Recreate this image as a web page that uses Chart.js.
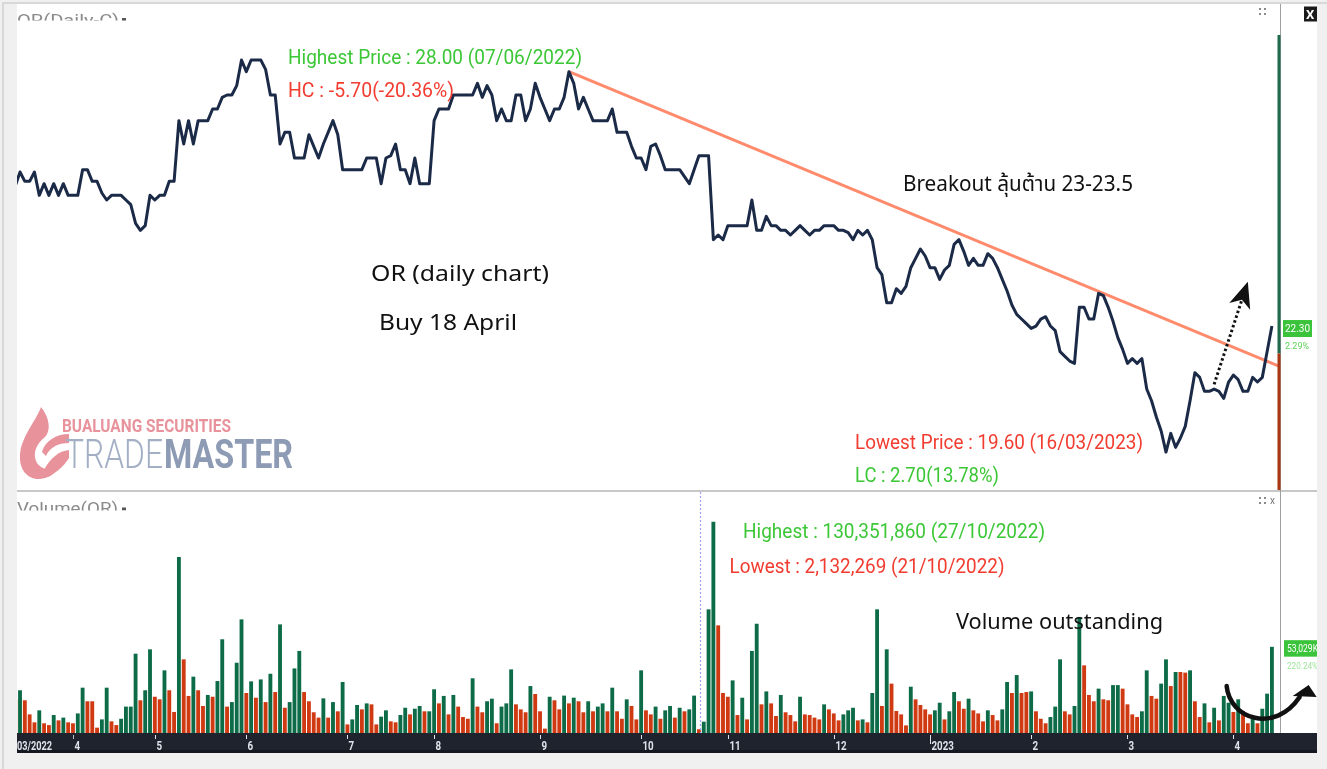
<!DOCTYPE html>
<html>
<head>
<meta charset="utf-8">
<title>OR daily chart</title>
<script src="https://cdn.jsdelivr.net/npm/chart.js@4.4.1/dist/chart.umd.min.js"></script>
<style>
  html, body { margin: 0; padding: 0; background: #f0f0f0; }
  canvas { display: block; }
</style>
</head>
<body>
<canvas id="chart" width="1327" height="769"></canvas>
<script>
// OR daily closes, one value per trading day (mid-March 2022 .. 18 April 2023)
const closePrice = [
  25.30, 25.60, 25.40, 25.40, 25.60, 25.10, 25.35, 25.10, 25.35, 25.10,
  25.35, 25.10, 25.10, 25.10, 25.65, 25.65, 25.40, 25.40, 25.15, 25.00,
  25.10, 25.10, 25.10, 25.00, 24.90, 24.50, 24.35, 24.45, 25.10, 25.00,
  25.10, 25.10, 25.40, 25.40, 26.70, 26.20, 26.70, 26.20, 26.70, 26.70,
  26.70, 26.95, 26.95, 27.20, 27.25, 27.25, 27.45, 28.00, 27.75, 28.00,
  28.00, 28.00, 27.80, 27.25, 27.25, 26.20, 26.45, 26.45, 25.90, 25.90,
  25.90, 26.40, 26.15, 25.90, 26.20, 26.45, 26.70, 26.40, 25.65, 25.65,
  25.65, 25.65, 25.65, 25.90, 25.90, 25.90, 25.35, 25.90, 25.95, 26.20,
  25.65, 25.65, 25.35, 25.90, 25.35, 25.35, 25.35, 26.70, 26.95, 26.95,
  26.95, 27.25, 27.25, 27.25, 27.25, 27.25, 27.50, 27.20, 27.45, 27.25,
  26.70, 26.95, 26.70, 26.70, 27.25, 27.25, 26.70, 26.95, 27.50, 27.20,
  26.95, 26.70, 26.95, 26.95, 27.20, 27.75, 27.50, 26.95, 27.20, 26.95,
  26.70, 26.70, 26.70, 26.70, 26.95, 26.45, 26.45, 26.45, 26.15, 25.90,
  25.90, 25.65, 26.15, 26.20, 25.95, 25.65, 25.65, 25.65, 25.65, 25.50,
  25.35, 25.65, 25.95, 25.95, 25.95, 24.15, 24.25, 24.15, 24.45, 24.45,
  24.45, 24.45, 24.45, 25.00, 24.35, 24.35, 24.65, 24.45, 24.45, 24.35,
  24.35, 24.25, 24.35, 24.45, 24.35, 24.25, 24.35, 24.35, 24.45, 24.45,
  24.45, 24.35, 24.35, 24.30, 24.15, 24.35, 24.25, 24.35, 24.15, 23.55,
  23.40, 22.80, 22.80, 23.10, 23.00, 23.15, 23.55, 23.75, 23.95, 23.80,
  23.55, 23.55, 23.30, 23.50, 23.60, 24.05, 24.15, 23.90, 23.60, 23.75,
  23.60, 23.60, 23.85, 23.75, 23.55, 23.30, 23.05, 22.75, 22.55, 22.45,
  22.35, 22.25, 22.30, 22.45, 22.50, 22.30, 22.20, 21.75, 21.65, 21.55,
  21.50, 22.70, 22.70, 22.45, 22.45, 23.00, 22.95, 22.70, 22.40, 22.05,
  21.80, 21.50, 21.60, 21.50, 21.60, 20.95, 20.70, 20.35, 20.05, 19.60,
  20.00, 19.70, 19.90, 20.15, 20.70, 21.30, 21.20, 20.90, 20.90, 20.95,
  20.90, 20.75, 21.10, 21.25, 21.15, 20.90, 20.90, 21.20, 21.10, 21.20,
  21.75, 22.30
]

// daily volume, millions of shares
const volumeM = [
  20.6, 26.2, 20.0, 11.3, 6.4, 13.8, 5.8, 4.7, 10.9, 7.6,
  9.3, 6.4, 5.8, 11.9, 27.8, 19.4, 19.4, 3.1, 8.2, 27.8,
  7.0, 4.7, 8.6, 16.1, 16.1, 48.8, 20.0, 26.2, 51.5, 22.2,
  20.6, 38.5, 26.2, 12.8, 108.5, 45.3, 22.7, 34.6, 26.2, 16.5,
  23.3, 22.2, 31.9, 57.7, 16.1, 18.9, 43.2, 70.0, 24.5, 31.7,
  21.6, 32.9, 18.9, 36.4, 25.1, 66.9, 15.4, 18.9, 39.7, 50.5,
  25.1, 19.4, 12.6, 9.3, 21.2, 9.3, 18.9, 13.2, 31.3, 5.1,
  8.2, 17.1, 14.4, 18.1, 17.5, 5.1, 9.9, 13.8, 7.0, 6.4,
  10.9, 15.4, 11.3, 14.8, 16.5, 13.2, 13.2, 26.8, 18.1, 22.7,
  11.3, 23.3, 16.1, 9.7, 8.6, 33.6, 16.1, 12.6, 19.4, 21.0,
  5.8, 16.1, 18.1, 39.1, 17.5, 14.4, 12.6, 28.8, 23.9, 13.2,
  2.5, 22.2, 20.0, 14.4, 22.9, 18.1, 21.6, 19.4, 12.6, 19.4,
  13.2, 16.1, 18.1, 13.2, 27.8, 13.2, 8.6, 20.6, 16.5, 8.2,
  38.5, 13.8, 11.3, 16.1, 8.6, 13.8, 16.5, 9.3, 15.4, 13.2,
  14.4, 22.9, 2.13, 6.8, 76.2, 130.35, 66.3, 24.5, 22.2, 32.3,
  10.9, 21.6, 8.2, 50.5, 67.3, 17.5, 25.5, 18.1, 10.3, 23.3,
  12.6, 10.9, 7.0, 22.2, 11.3, 10.9, 9.3, 8.2, 17.5, 14.4,
  11.9, 7.6, 11.3, 13.8, 15.4, 7.6, 8.2, 6.4, 24.5, 76.2,
  16.5, 51.5, 30.3, 13.4, 11.3, 4.5, 28.4, 20.6, 17.1, 14.4,
  11.3, 13.8, 18.5, 8.2, 13.2, 25.1, 19.4, 14.8, 21.0, 13.8,
  11.9, 7.0, 13.8, 10.9, 7.6, 14.4, 31.3, 24.5, 35.6, 24.5,
  25.1, 25.5, 13.2, 8.6, 5.8, 9.7, 16.1, 45.3, 13.2, 11.3,
  16.5, 71.5, 41.6, 23.3, 19.4, 27.2, 20.6, 20.0, 29.4, 29.4,
  27.2, 17.5, 11.3, 9.7, 13.2, 38.5, 22.7, 21.0, 30.3, 45.3,
  28.8, 37.5, 37.5, 37.1, 38.5, 19.4, 9.7, 18.1, 6.4, 15.4,
  7.6, 22.7, 18.5, 12.8, 20.6, 13.2, 5.8, 8.6, 5.8, 14.8,
  24.1, 53.03
]

// 1 = up day (green bar), 0 = down day (red bar)
const volumeUp = [
  0, 1, 0, 0, 0, 1, 0, 0, 1, 0,
  1, 0, 0, 1, 1, 0, 0, 0, 1, 1,
  0, 0, 1, 1, 1, 1, 0, 1, 1, 0,
  0, 1, 0, 0, 1, 0, 0, 1, 0, 0,
  1, 0, 1, 1, 0, 1, 1, 1, 0, 1,
  0, 1, 0, 1, 0, 1, 0, 1, 1, 1,
  0, 0, 0, 0, 1, 0, 1, 0, 1, 0,
  1, 1, 0, 1, 0, 0, 1, 1, 0, 0,
  1, 1, 0, 1, 1, 0, 1, 1, 0, 1,
  0, 1, 0, 0, 0, 1, 0, 0, 1, 1,
  0, 1, 1, 1, 0, 0, 0, 1, 0, 0,
  0, 1, 0, 0, 1, 0, 1, 0, 0, 1,
  0, 1, 1, 0, 1, 0, 0, 1, 0, 0,
  1, 0, 0, 1, 0, 1, 1, 0, 1, 0,
  1, 1, 0, 1, 1, 1, 0, 0, 0, 1,
  0, 1, 0, 1, 1, 0, 1, 0, 0, 1,
  0, 0, 0, 1, 0, 0, 0, 0, 1, 0,
  0, 0, 1, 1, 1, 0, 1, 0, 1, 1,
  0, 1, 0, 0, 0, 0, 1, 0, 0, 0,
  0, 1, 1, 0, 1, 1, 0, 0, 1, 0,
  0, 0, 1, 0, 0, 1, 1, 0, 1, 0,
  0, 1, 0, 0, 0, 1, 1, 1, 0, 0,
  1, 1, 0, 0, 0, 1, 0, 0, 1, 1,
  0, 0, 0, 0, 1, 1, 0, 0, 1, 1,
  0, 1, 0, 0, 1, 0, 0, 1, 0, 1,
  0, 1, 1, 0, 1, 0, 0, 1, 0, 1,
  1, 1
]

// month ticks on the time axis (index of first trading day of the month)
const monthTickIdx = [12, 29, 48, 69, 87, 109, 130, 148, 170, 190, 211, 231, 253]
const monthTickLabels = ['4', '5', '6', '7', '8', '9', '10', '11', '12', '2023', '2', '3', '4']
const firstDateLabel = '03/2022'

// resistance line drawn by hand on the chart
const trendIdx = [115, 262.7]
const trendPrice = [27.75, 21.43]

const crosshairIdx = 142
const lastPriceLabel = '22.30'
const lastChangeLabel = '2.29%'
const lastVolumeLabel = '53,029K'
const volumeChangeLabel = '220.24%'

const GREEN_TXT = '#3cc737'
const RED_TXT = '#f23c30'
const NARROW = '"Liberation Sans Narrow", Roboto, sans-serif'
const THAI = '"Noto Sans Thai", "Noto Sans", Tahoma, sans-serif'
const SEP_Y = 491

function drawText(ctx, text, x, y, font, color, width) {
  ctx.font = font
  ctx.fillStyle = color
  ctx.textAlign = 'left'
  ctx.textBaseline = 'alphabetic'
  const w = ctx.measureText(text).width
  const sx = width ? width / w : 1
  ctx.save()
  ctx.translate(x, y)
  ctx.scale(sx, 1)
  ctx.fillText(text, 0, 0)
  ctx.restore()
}

function panelIcons(ctx, y, withX) {
  ctx.fillStyle = '#8a8a8a'
  ;[[1259, y], [1264, y], [1259, y + 5], [1264, y + 5]].forEach(([x, yy]) => ctx.fillRect(x, yy, 2, 2))
  if (withX) drawText(ctx, 'x', 1270, y + 7, '10px Roboto', '#777')
}

function drawLogo(ctx) {
  ctx.save()
  ctx.fillStyle = '#e8939b'
  // flame body
  ctx.beginPath()
  ctx.moveTo(41, 407)
  ctx.bezierCurveTo(36, 421, 21, 437, 20, 455)
  ctx.bezierCurveTo(19, 470, 28, 479, 38, 479)
  ctx.bezierCurveTo(48, 479, 55, 474, 59, 467)
  ctx.bezierCurveTo(51, 471, 42, 470, 37, 463)
  ctx.bezierCurveTo(32, 454, 36, 444, 45, 437)
  ctx.bezierCurveTo(51, 431, 50, 418, 41, 407)
  ctx.fill()
  // upper bar of the "G"
  ctx.beginPath()
  ctx.moveTo(42, 452)
  ctx.bezierCurveTo(45, 441, 56, 434, 69, 434)
  ctx.lineTo(69, 443)
  ctx.bezierCurveTo(58, 443, 50, 447, 46, 456)
  ctx.closePath()
  ctx.fill()
  // lower swirl
  ctx.beginPath()
  ctx.moveTo(44, 470)
  ctx.bezierCurveTo(50, 458, 59, 451, 69, 450)
  ctx.lineTo(69, 458)
  ctx.bezierCurveTo(64, 466, 56, 474, 44, 478)
  ctx.closePath()
  ctx.fill()
  ctx.restore()

  drawText(ctx, 'BUALUANG SECURITIES', 62, 431.5, 'bold 19px Roboto', '#e8939b', 169)
  drawText(ctx, 'TRADE', 65, 468, '300 40px Roboto', '#a3afc5', 98)
  drawText(ctx, 'MASTER', 164, 468, 'bold 40px Roboto', '#8e9bb5', 129)
}

const decorPlugin = {
  id: 'decor',
  beforeDraw(chart) {
    const { ctx, chartArea: a } = chart
    ctx.save()
    ctx.fillStyle = '#f0f0f0'
    ctx.fillRect(0, 0, chart.width, chart.height)
    ctx.strokeStyle = '#d0d0d0'
    ctx.lineWidth = 1.5
    ctx.beginPath()
    ctx.moveTo(3, chart.height)
    ctx.lineTo(3, 3)
    ctx.lineTo(chart.width, 3)
    ctx.stroke()

    ctx.fillStyle = '#ffffff'
    ctx.fillRect(a.left, a.top, 1317 - a.left, a.bottom - a.top)

    // panel separator
    ctx.fillStyle = '#c8c8c8'
    ctx.fillRect(a.left, SEP_Y - 1, 1317 - a.left, 2)

    // right price axis border
    ctx.fillStyle = '#a0a0a0'
    ctx.fillRect(a.right, a.top, 1, a.bottom - a.top)

    drawLogo(ctx)

    // clipped panel titles
    ctx.save()
    ctx.beginPath()
    ctx.rect(a.left, a.top, 200, 16.5)
    ctx.clip()
    drawText(ctx, 'OR(Daily-C)', 17, 25.5, '17px Roboto', '#8a8a8a', 102)
    ctx.fillStyle = '#555'
    ctx.fillRect(122, 18, 4, 3)
    ctx.restore()

    ctx.save()
    ctx.beginPath()
    ctx.rect(a.left, SEP_Y + 1, 200, 18.5)
    ctx.clip()
    drawText(ctx, 'Volume(OR)', 17, 513.5, '17px Roboto', '#8a8a8a', 101)
    ctx.fillStyle = '#555'
    ctx.fillRect(122, 507.5, 4, 3)
    ctx.restore()

    panelIcons(ctx, 8, false)
    panelIcons(ctx, 497, true)

    // close box
    ctx.fillStyle = '#1a1a1a'
    ctx.fillRect(1304, 6.5, 13, 15)
    drawText(ctx, 'X', 1306, 19, 'bold 13px Roboto', '#ffffff')
    ctx.restore()
  },
  afterDatasetsDraw(chart) {
    const { ctx, chartArea: a, scales } = chart
    const x = scales.x, yp = scales.yPrice, yv = scales.yVol
    ctx.save()

    // crosshair in the volume panel
    const cx = Math.round(x.getPixelForValue(crosshairIdx)) + 1.5
    ctx.strokeStyle = '#a3a3ff'
    ctx.lineWidth = 1.2
    ctx.setLineDash([2, 2])
    ctx.beginPath()
    ctx.moveTo(cx, SEP_Y + 1)
    ctx.lineTo(cx, a.bottom)
    ctx.stroke()
    ctx.setLineDash([])

    // buy/sell pressure strip on the axis
    ctx.fillStyle = '#1d6b4a'
    ctx.fillRect(a.right - 2.5, 35, 3, 318.5)
    ctx.fillStyle = '#a83612'
    ctx.fillRect(a.right - 2.5, 353.5, 3, 136.5)

    // dotted breakout arrow
    const sx = x.getPixelForValue(249), sy = yp.getPixelForValue(21.05)
    const tx = x.getPixelForValue(256), ty = yp.getPixelForValue(23.25)
    const ang = Math.atan2(ty - sy, tx - sx)
    const ex = tx - Math.cos(ang) * 16, ey = ty - Math.sin(ang) * 16
    ctx.strokeStyle = '#111'
    ctx.lineWidth = 3
    ctx.setLineDash([2.5, 2.5])
    ctx.beginPath()
    ctx.moveTo(sx, sy)
    ctx.lineTo(ex, ey)
    ctx.stroke()
    ctx.setLineDash([])
    ctx.fillStyle = '#111'
    ctx.save()
    ctx.translate(tx, ty)
    ctx.rotate(ang)
    ctx.beginPath()
    ctx.moveTo(0, 0)
    ctx.lineTo(-26, -11)
    ctx.lineTo(-19, 0)
    ctx.lineTo(-26, 11)
    ctx.closePath()
    ctx.fill()
    ctx.restore()

    // curved "volume turning up" arrow
    const bx = x.getPixelForValue(251.6), by = yv.getPixelForValue(29)
    ctx.strokeStyle = '#111'
    ctx.lineWidth = 4.5
    ctx.lineCap = 'round'
    ctx.beginPath()
    ctx.moveTo(bx, by)
    ctx.bezierCurveTo(bx + 3, by + 33, bx + 48, by + 48, bx + 73, by + 11)
    ctx.stroke()
    ctx.beginPath()
    ctx.moveTo(bx + 82, by - 1)
    ctx.lineTo(bx + 66, by + 10)
    ctx.lineTo(bx + 90, by + 11)
    ctx.closePath()
    ctx.fill()

    // annotations
    drawText(ctx, 'Highest Price : 28.00 (07/06/2022)', 288, 63.5, '21px ' + NARROW, GREEN_TXT, 294)
    drawText(ctx, 'HC : -5.70(-20.36%)', 288, 96.7, '21px ' + NARROW, RED_TXT, 166)
    drawText(ctx, 'Breakout ลุ้นต้าน 23-23.5', 903, 190.7, '22px ' + THAI, '#111', 230)
    drawText(ctx, 'OR (daily chart)', 371, 281, '22px ' + THAI, '#111', 178)
    drawText(ctx, 'Buy 18 April', 379, 330, '22px ' + THAI, '#111', 138)
    drawText(ctx, 'Lowest Price : 19.60 (16/03/2023)', 855, 449, '21px ' + NARROW, RED_TXT, 288)
    drawText(ctx, 'LC : 2.70(13.78%)', 855, 481.7, '21px ' + NARROW, GREEN_TXT, 144)
    drawText(ctx, 'Highest : 130,351,860 (27/10/2022)', 743, 538.3, '21px ' + NARROW, GREEN_TXT, 302)
    drawText(ctx, 'Lowest : 2,132,269 (21/10/2022)', 729.5, 573.3, '21px ' + NARROW, RED_TXT, 275)
    drawText(ctx, 'Volume outstanding', 956, 629.3, '22px ' + THAI, '#111', 207)
    ctx.restore()
  },
  afterDraw(chart) {
    const { ctx, chartArea: a, scales } = chart
    ctx.save()
    // last price / last volume tags
    const py = scales.yPrice.getPixelForValue(closePrice[closePrice.length - 1])
    ctx.fillStyle = '#3bc43b'
    ctx.fillRect(1283, py - 6, 29, 17)
    ctx.font = '10px Roboto'
    ctx.fillStyle = '#ffffff'
    ctx.textAlign = 'center'
    ctx.fillText(lastPriceLabel, 1297.5, py + 6)
    ctx.fillStyle = '#5fd35a'
    ctx.font = '9px Roboto'
    ctx.fillText(lastChangeLabel, 1297, py + 23)

    const vy = scales.yVol.getPixelForValue(volumeM[volumeM.length - 1])
    ctx.fillStyle = '#3bc43b'
    ctx.fillRect(1284, vy - 7, 33, 16.5)
    ctx.restore()
    ctx.save()
    ctx.beginPath()
    ctx.rect(1281, SEP_Y, 36, 242)
    ctx.clip()
    drawText(ctx, lastVolumeLabel, 1287, vy + 5, '10px Roboto', '#ffffff', 31)
    drawText(ctx, volumeChangeLabel, 1287, vy + 21.5, '9px Roboto', '#9fe59b', 31)
    ctx.restore()

    // time axis strip
    ctx.save()
    ctx.fillStyle = '#1f232d'
    ctx.fillRect(a.left, a.bottom, 1317 - a.left, 20)
    ctx.fillStyle = '#151820'
    ctx.fillRect(a.left, a.bottom + 17, 1317 - a.left, 3)
    ctx.fillStyle = '#b9bfcc'
    monthTickIdx.forEach((idx, i) => {
      const tx = Math.round(scales.x.getPixelForValue(idx))
      ctx.fillRect(tx, a.bottom + 2, 1, monthTickLabels[i] === '2023' ? 9 : 4)
      drawText(ctx, monthTickLabels[i], tx + 1.5, a.bottom + 16.5, 'bold 12px Roboto', '#dfe3ea', monthTickLabels[i].length * 5.6)
    })
    drawText(ctx, firstDateLabel, a.left, a.bottom + 16.5, 'bold 12px Roboto', '#dfe3ea', 35)
    ctx.restore()
  }
}

new Chart(document.getElementById('chart'), {
  type: 'bar',
  plugins: [decorPlugin],
  data: {
    datasets: [
      {
        type: 'line',
        label: 'OR close',
        data: closePrice.map((p, i) => ({ x: i, y: p })),
        yAxisID: 'yPrice',
        borderColor: '#1b2a47',
        borderWidth: 3,
        borderJoinStyle: 'round',
        pointRadius: 0,
        tension: 0,
        order: 0
      },
      {
        type: 'line',
        label: 'Resistance',
        data: trendIdx.map((v, i) => ({ x: v, y: trendPrice[i] })),
        yAxisID: 'yPrice',
        borderColor: '#ff8a6c',
        borderWidth: 3,
        pointRadius: 0,
        order: 1
      },
      {
        type: 'bar',
        label: 'Volume',
        data: volumeM.map((v, i) => ({ x: i, y: v })),
        yAxisID: 'yVol',
        backgroundColor: volumeUp.map(u => (u ? '#0d6c47' : '#d03a12')),
        barThickness: 3.2,
        order: 2
      }
    ]
  },
  options: {
    responsive: false,
    animation: false,
    events: [],
    layout: { padding: { left: 17, right: 47, top: 4, bottom: 36 } },
    scales: {
      x: { type: 'linear', offset: false, grid: { offset: false }, min: 0.374, max: 262.68, display: false },
      yPrice: { type: 'linear', position: 'right', min: 13.58, max: 29.2, display: false },
      yVol: { type: 'linear', position: 'right', min: 0, max: 450.4, display: false }
    },
    plugins: {
      legend: { display: false },
      tooltip: { enabled: false }
    }
  }
})
</script>
</body>
</html>
